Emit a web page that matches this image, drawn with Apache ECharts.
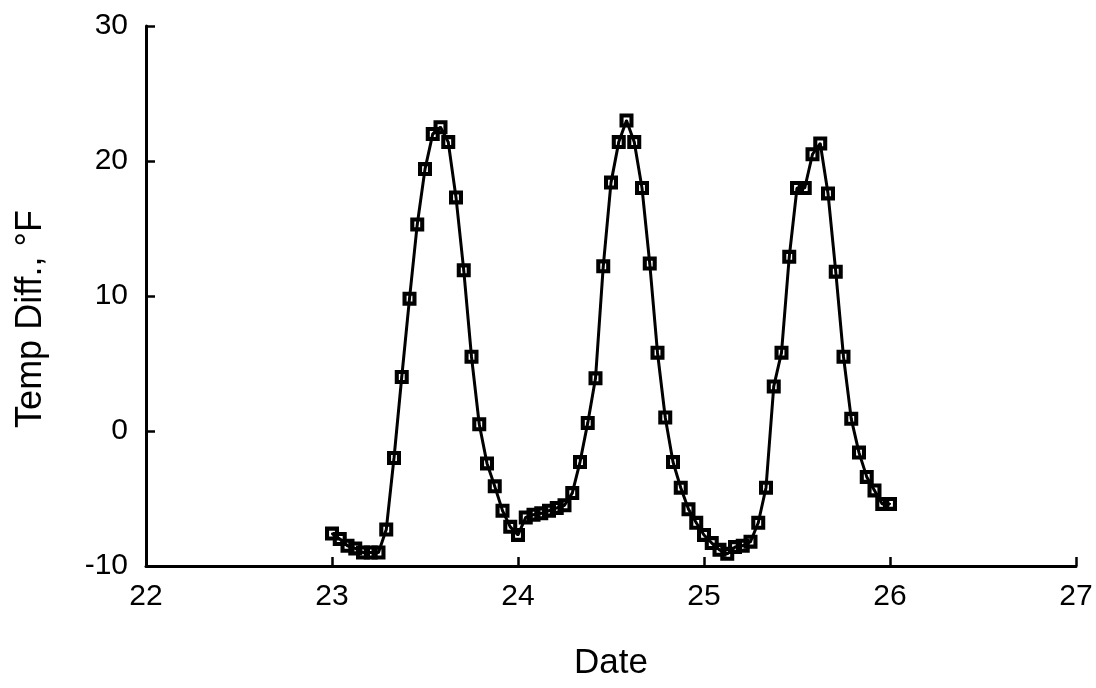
<!DOCTYPE html>
<html>
<head>
<meta charset="utf-8">
<script src="https://cdn.jsdelivr.net/npm/echarts@6/dist/echarts.min.js"></script>
<style>
  html, body { margin: 0; padding: 0; background: #fff; }
  #main { width: 1096px; height: 688px; }
</style>
</head>
<body>
<div id="main"></div>
<script>
// hourly readings, 23.0 .. 26.0 (73 points)
var startDay = 23;
var stepsPerDay = 24;
var tempDiff = [
  // day 23
  -7.6, -8.0, -8.5, -8.7, -9.0, -9.0, -9.0, -7.3, -2.0, 4.0, 9.8, 15.3, 19.4,
  22.0, 22.5, 21.4, 17.3, 11.9, 5.5, 0.5, -2.4, -4.1, -5.9, -7.1,
  // day 24
  -7.7, -6.4, -6.2, -6.1, -5.9, -5.7, -5.5, -4.6, -2.3, 0.6, 3.9, 12.2, 18.4,
  21.4, 23.0, 21.4, 18.0, 12.4, 5.8, 1.0, -2.3, -4.2, -5.8, -6.8,
  // day 25
  -7.7, -8.3, -8.8, -9.1, -8.6, -8.5, -8.2, -6.8, -4.2, 3.3, 5.8, 12.9, 18.0,
  18.0, 20.5, 21.3, 17.6, 11.8, 5.5, 0.9, -1.6, -3.4, -4.4, -5.4,
  // day 26
  -5.4
];
var xTicks = [22, 23, 24, 25, 26, 27];
var yTicks = [-10, 0, 10, 20, 30];

var points = tempDiff.map(function (v, i) {
  return [startDay + i / stepsPerDay, v];
});

var myChart = echarts.init(document.getElementById('main'));
var font = 'Liberation Sans, Arial, Helvetica, sans-serif';

var option = {
  backgroundColor: '#fff',
  animation: false,
  grid: { left: 146, right: 20, top: 26, bottom: 122 },
  xAxis: {
    type: 'value',
    min: xTicks[0],
    max: xTicks[xTicks.length - 1],
    interval: 1,
    name: 'Date',
    nameLocation: 'middle',
    nameGap: 80,
    nameTextStyle: { fontFamily: font, fontSize: 35, color: '#000' },
    axisLine: { onZero: false, lineStyle: { color: '#000', width: 3 } },
    axisTick: { inside: true, length: 9, lineStyle: { color: '#000', width: 2.5 } },
    axisLabel: { fontFamily: font, fontSize: 30, color: '#000', margin: 16 },
    splitLine: { show: false }
  },
  yAxis: {
    type: 'value',
    min: yTicks[0],
    max: yTicks[yTicks.length - 1],
    interval: 10,
    name: 'Temp Diff., °F',
    nameLocation: 'middle',
    nameGap: 97,
    nameTextStyle: { fontFamily: font, fontSize: 36, color: '#000', padding: [0, 46, 0, 0] },
    axisLine: { show: true, lineStyle: { color: '#000', width: 3 } },
    axisTick: { show: true, inside: true, length: 9, lineStyle: { color: '#000', width: 2.5 } },
    axisLabel: { fontFamily: font, fontSize: 30, color: '#000', margin: 18 },
    splitLine: { show: false }
  },
  series: [{
    type: 'line',
    data: points,
    lineStyle: { color: '#000', width: 3 },
    symbol: 'path://M0,0H12V12H0Z M3.5,3.5V8.5H8.5V3.5Z M5.2,5.2H6.8V6.8H5.2Z',
    symbolSize: 14,
    itemStyle: { color: '#000', borderWidth: 0 }
  }]
};

myChart.setOption(option);
</script>
</body>
</html>
